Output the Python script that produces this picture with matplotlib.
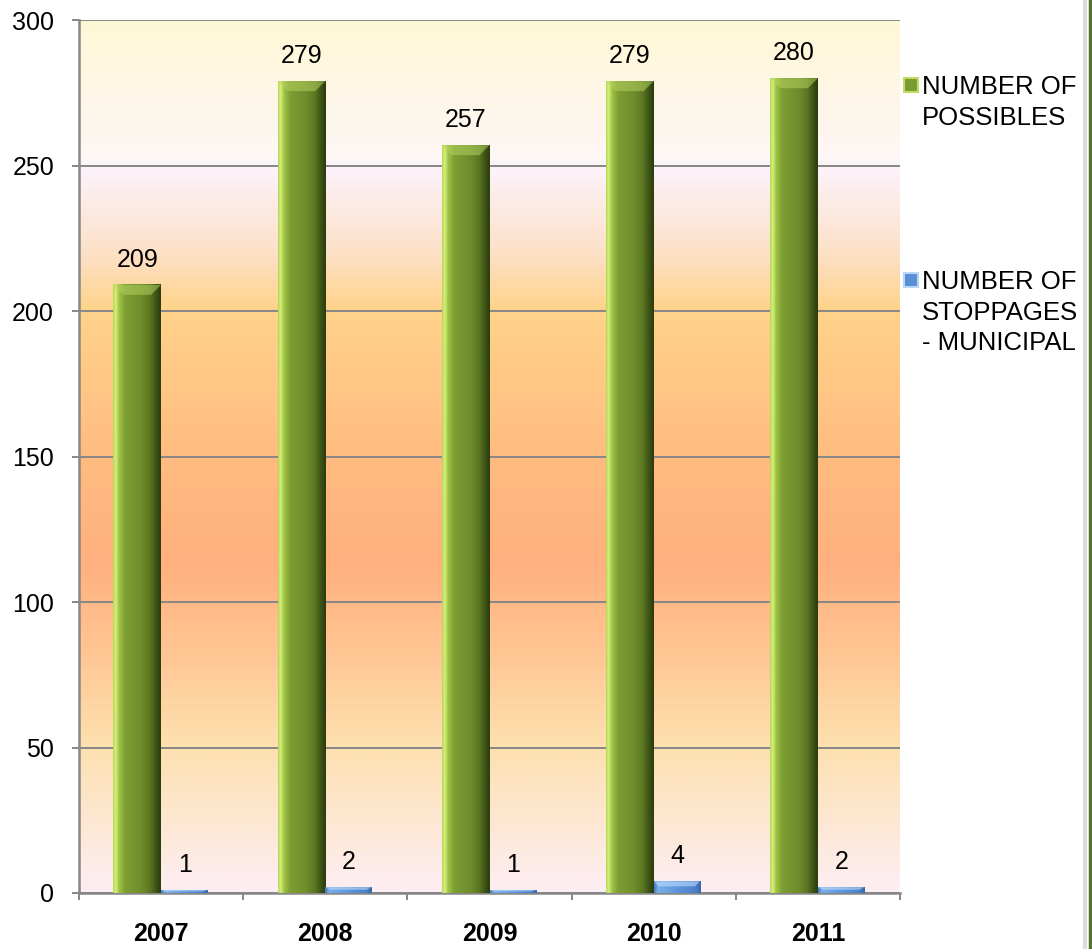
import numpy as np
import matplotlib.pyplot as plt
from matplotlib.colors import LinearSegmentedColormap, to_rgb
from matplotlib.patches import Polygon, Rectangle
from matplotlib.lines import Line2D

years = ["2007", "2008", "2009", "2010", "2011"]
possibles = [209, 279, 257, 279, 280]
stoppages = [1, 2, 1, 4, 2]
series_names = [["NUMBER OF", "POSSIBLES"],
                ["NUMBER OF", "STOPPAGES", "- MUNICIPAL"]]
yticks = [0, 50, 100, 150, 200, 250, 300]

plt.rcParams['font.family'] = ['Liberation Sans', 'DejaVu Sans']

W, H = 1092, 949
fig = plt.figure(figsize=(W / 100, H / 100), dpi=100)
ax = fig.add_axes([79 / W, 1 - 893 / H, (900 - 79) / W, 873 / H])

# plot area background: vertical gradient yellow -> peach -> pink
bg = LinearSegmentedColormap.from_list('bg', [
    (0.0, '#fff8d6'), (0.16, '#fdf6f6'), (0.167, '#fcf3fb'),
    (0.27, '#fde0c4'), (0.33, '#ffd38a'), (0.50, '#ffbc80'),
    (0.62, '#ffb07e'), (0.72, '#ffc492'), (0.83, '#fde0ae'),
    (1.0, '#fdeef3')])
ax.imshow(np.linspace(0, 1, 600).reshape(-1, 1), cmap=bg, aspect='auto',
          extent=(-0.5, 4.5, 0, 300), origin='upper', zorder=0)

green = LinearSegmentedColormap.from_list('green', [
    (0.0, '#b8d85c'), (0.05, '#d8f07a'), (0.12, '#a0c446'),
    (0.25, '#7e9e34'), (0.6, '#6e8c2a'), (0.78, '#5a7622'),
    (0.9, '#3e5416'), (1.0, '#2c3c0e')])
blue = LinearSegmentedColormap.from_list('blue', [
    (0.0, '#4a7cc0'), (0.08, '#7aaee8'), (0.5, '#5e96dc'),
    (0.9, '#4a80c8'), (1.0, '#3a68a8')])


def lighten(c, f):
    r, g, b = to_rgb(c)
    return (r + (1 - r) * f, g + (1 - g) * f, b + (1 - b) * f)


def bevel_bar(x0, w, h, cmap, top_light, bevel_px):
    # data units per pixel
    px_x = 5 / 821
    px_y = 300 / 873
    bx = bevel_px * px_x
    bt = min(bevel_px * px_y, h * 0.45)
    grad = np.linspace(0, 1, 80).reshape(1, -1)
    ax.imshow(grad, cmap=cmap, aspect='auto', extent=(x0, x0 + w, 0, h),
              zorder=3, interpolation='bilinear')
    top = Polygon([(x0, h), (x0 + w, h), (x0 + w - bx, h - bt), (x0 + bx, h - bt)],
                  closed=True, facecolor=top_light, edgecolor='none',
                  alpha=0.55, zorder=4)
    ax.add_patch(top)


bw = 0.29
for i in range(len(years)):
    bevel_bar(i - bw, bw, possibles[i], green, '#b4d060', 10)
    bevel_bar(i, bw * 0.97, stoppages[i], blue, '#c8e4ff', 5)
    ax.annotate(str(possibles[i]), (i - bw / 2, possibles[i]),
                xytext=(0, 13), textcoords='offset points',
                ha='center', va='baseline', fontsize=18, zorder=6)
    ax.annotate(str(stoppages[i]), (i + bw / 2, stoppages[i]),
                xytext=(0, 13), textcoords='offset points',
                ha='center', va='baseline', fontsize=18, zorder=6)

ax.set_xlim(-0.5, 4.5)
ax.set_ylim(0, 300)

ax.set_yticks(yticks)
ax.yaxis.grid(True, color='#878787', linewidth=1.4, zorder=1)
ax.set_axisbelow(True)
ax.tick_params(axis='y', labelsize=18, length=5, width=1.4, color='#878787', pad=13)

ax.set_xticks(range(len(years)))
ax.set_xticklabels(years, fontweight='bold')
ax.set_xticks(np.arange(-0.5, 5, 1), minor=True)
ax.tick_params(axis='x', which='major', length=0, labelsize=18, pad=21)
ax.tick_params(axis='x', which='minor', length=5, width=1.4, color='#878787')

for s in ['top', 'right']:
    ax.spines[s].set_visible(False)
for s in ['left', 'bottom']:
    ax.spines[s].set_color('#878787')
    ax.spines[s].set_linewidth(1.8)

# legend drawn by hand at the right of the plot
leg_colors = [('#7a9a32', '#c0dc66'), ('#5a90d6', '#b8d8fa')]
first_line_y = [85, 280]
for (face, light), lines, yc in zip(leg_colors, series_names, first_line_y):
    fig.patches.append(Rectangle((904 / W, 1 - (yc + 7) / H), 14 / W, 14 / H,
                                 transform=fig.transFigure, facecolor=face,
                                 edgecolor=light, linewidth=1.5))
    for k, line in enumerate(lines):
        fig.text(922 / W, 1 - (yc + 9.5 + 30 * k) / H, line, fontsize=18.5,
                 ha='left', va='baseline')

# frame edge on the right
fig.lines.append(Line2D([1085 / W, 1085 / W], [0, 1], transform=fig.transFigure,
                        color='#dcdcdc', linewidth=3))
fig.lines.append(Line2D([1089.5 / W, 1089.5 / W], [0, 1], transform=fig.transFigure,
                        color='#56702e', linewidth=2.5))

fig.savefig('out.png', dpi=100)
